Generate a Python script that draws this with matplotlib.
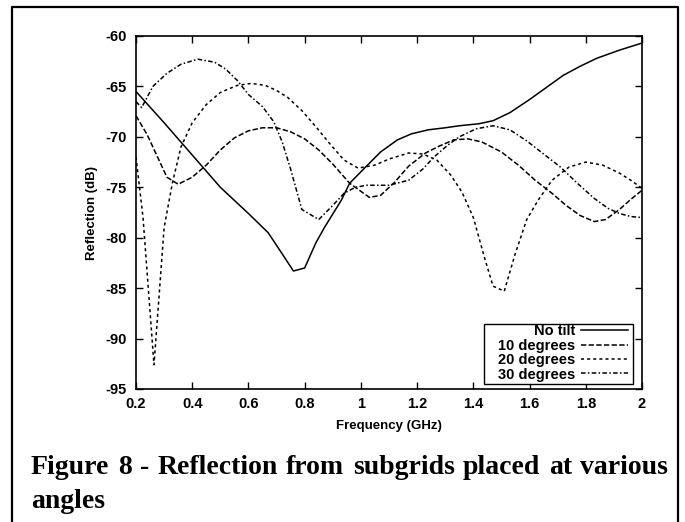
import matplotlib
matplotlib.use("Agg")
import matplotlib.pyplot as plt
from matplotlib.lines import Line2D
from matplotlib.patches import Rectangle

# ---- data ----
f_notilt = [0.2, 0.3, 0.4, 0.5, 0.6, 0.67, 0.72, 0.76, 0.8, 0.84, 0.87, 0.93, 0.96,
            1.02, 1.07, 1.13, 1.18, 1.24, 1.3, 1.35, 1.42, 1.47, 1.53, 1.6, 1.66,
            1.72, 1.78, 1.84, 1.92, 2.0]
r_notilt = [-65.5, -68.6, -71.8, -75.0, -77.6, -79.5, -81.6, -83.3, -83.0, -80.5, -79.0,
            -76.3, -74.6, -72.9, -71.5, -70.3, -69.7, -69.3, -69.1, -68.9, -68.7, -68.4,
            -67.6, -66.3, -65.1, -63.9, -63.0, -62.2, -61.4, -60.7]

f_10 = [0.2, 0.24, 0.28, 0.31, 0.35, 0.4, 0.45, 0.5, 0.55, 0.6, 0.65, 0.7, 0.75, 0.8,
        0.85, 0.9, 0.96, 1.03, 1.07, 1.12, 1.17, 1.23, 1.28, 1.33, 1.38, 1.43, 1.5,
        1.56, 1.62, 1.68, 1.73, 1.78, 1.83, 1.87, 1.92, 1.96, 2.0]
r_10 = [-67.9, -69.8, -72.2, -74.0, -74.7, -74.0, -72.8, -71.3, -70.1, -69.4, -69.1,
        -69.1, -69.5, -70.2, -71.3, -72.7, -74.6, -76.0, -75.8, -74.5, -72.9, -71.6,
        -70.9, -70.3, -70.2, -70.5, -71.5, -72.8, -74.3, -75.6, -76.8, -77.8, -78.4,
        -78.2, -77.2, -76.2, -75.3]

f_20 = [0.2, 0.225, 0.264, 0.3, 0.33, 0.36, 0.4, 0.45, 0.5, 0.56, 0.61, 0.66, 0.7,
        0.74, 0.79, 0.84, 0.89, 0.94, 0.99, 1.05, 1.1, 1.17, 1.22, 1.27, 1.32, 1.36,
        1.4, 1.44, 1.47, 1.51, 1.55, 1.59, 1.63, 1.68, 1.74, 1.8, 1.86, 1.92, 1.96, 2.0]
r_20 = [-72.0, -78.0, -92.6, -79.0, -74.5, -71.0, -68.6, -66.8, -65.6, -64.9, -64.7,
        -64.9, -65.4, -66.1, -67.4, -69.0, -70.7, -72.3, -73.1, -72.8, -72.2, -71.6,
        -71.7, -72.3, -73.8, -75.5, -78.0, -82.0, -84.8, -85.3, -81.5, -78.2, -76.3,
        -74.3, -73.0, -72.5, -72.8, -73.6, -74.3, -75.1]

f_30 = [0.2, 0.22, 0.26, 0.31, 0.36, 0.42, 0.48, 0.52, 0.56, 0.6, 0.65, 0.69, 0.72,
        0.75, 0.79, 0.85, 0.9, 0.94, 0.98, 1.02, 1.1, 1.17, 1.22, 1.26, 1.31, 1.35,
        1.41, 1.47, 1.53, 1.59, 1.65, 1.71, 1.77, 1.83, 1.88, 1.92, 1.96, 2.0]
r_30 = [-66.5, -67.1, -65.0, -63.7, -62.8, -62.3, -62.6, -63.3, -64.4, -65.8, -67.0,
        -68.5, -70.5, -73.2, -77.2, -78.2, -76.8, -75.6, -75.0, -74.8, -74.8, -74.3,
        -73.2, -72.0, -70.8, -70.0, -69.2, -68.9, -69.3, -70.4, -71.7, -73.0, -74.6,
        -76.1, -77.1, -77.6, -77.9, -78.0]

labels = ["No tilt", "10 degrees", "20 degrees", "30 degrees"]
x_ticks = [0.2, 0.4, 0.6, 0.8, 1.0, 1.2, 1.4, 1.6, 1.8, 2.0]
x_tick_labels = ["0.2", "0.4", "0.6", "0.8", "1", "1.2", "1.4", "1.6", "1.8", "2"]
y_ticks = [-95, -90, -85, -80, -75, -70, -65, -60]
caption_1 = "Figure 8 - Reflection from subgrids placed at various"
caption_2 = "angles"

plt.rcParams["font.family"] = ["Liberation Sans", "DejaVu Sans"]
plt.rcParams["font.weight"] = "bold"
plt.rcParams["axes.unicode_minus"] = False

fig = plt.figure(figsize=(6.85, 5.22), dpi=100)
ax = fig.add_axes([136 / 685, 1 - 389 / 522, (642 - 136) / 685, (389 - 36) / 522])

lw = 1.1
ax.plot(f_notilt, r_notilt, color="black", lw=lw, linestyle="-", label=labels[0])
ax.plot(f_10, r_10, color="black", lw=lw, linestyle=(0, (3.5, 1.5)), label=labels[1])
ax.plot(f_20, r_20, color="black", lw=lw, linestyle=(0, (2, 2)), label=labels[2])
ax.plot(f_30, r_30, color="black", lw=lw, linestyle=(0, (3, 1.5, 1, 1.5)), label=labels[3])

ax.set_xlim(0.2, 2.0)
ax.set_ylim(-95, -60)
ax.set_xticks(x_ticks)
ax.set_xticklabels(x_tick_labels)
ax.set_yticks(y_ticks)
ax.tick_params(direction="in", length=5, width=1, top=True, right=True, labelsize=10.5)
ax.tick_params(axis="x", pad=6)
ax.tick_params(axis="y", pad=7)
for lab in ax.get_xticklabels() + ax.get_yticklabels():
    lab.set_fontweight("bold")
for sp in ax.spines.values():
    sp.set_linewidth(1.2)

ax.set_xlabel("Frequency (GHz)", fontsize=9.5, fontweight="bold", labelpad=6)
ax.set_ylabel("Reflection (dB)", fontsize=9.5, fontweight="bold", labelpad=5)

# legend box: wider than its content, with the labels pushed to the right
ax.add_patch(Rectangle((484 / 685, 1 - 384 / 522), 149 / 685, 60 / 522,
                       transform=fig.transFigure, facecolor="white",
                       edgecolor="black", lw=1.0, zorder=4, clip_on=False))
leg = ax.legend(loc="lower right", markerfirst=False, frameon=False,
                borderpad=0.1, labelspacing=0.03, handlelength=3.2,
                handletextpad=0.4, borderaxespad=0.0,
                prop={"weight": "bold", "size": 10.5})
leg.set_bbox_to_anchor((629 / 685, 1 - 383 / 522), transform=fig.transFigure)
leg.set_zorder(5)
for t in leg.get_texts():
    t.set_ha("right")
leg._legend_box.align = "right"

# outer frame (open at the bottom)
fig.add_artist(Line2D([12 / 685, 12 / 685, 678 / 685, 678 / 685],
                      [0, 1 - 7 / 522, 1 - 7 / 522, 0],
                      transform=fig.transFigure, color="black", lw=1.6))

# justified caption, first line spread across the width
x_left, x_right = 31 / 685, 668 / 685
cap_font = {"family": ["Liberation Serif", "DejaVu Serif"], "weight": "bold", "size": 20}
words = caption_1.split(" ")
renderer = fig.canvas.get_renderer()
texts = [fig.text(0, 1 - 474 / 522, w, ha="left", va="baseline", fontdict=cap_font)
         for w in words]
widths = [t.get_window_extent(renderer).width / fig.bbox.width for t in texts]
gap = (x_right - x_left - sum(widths)) / (len(words) - 1)
xpos = x_left
for t, w in zip(texts, widths):
    t.set_x(xpos)
    xpos += w + gap
fig.text(x_left, 1 - 508 / 522, caption_2, ha="left", va="baseline", fontdict=cap_font)

fig.savefig("out.png", dpi=100)
